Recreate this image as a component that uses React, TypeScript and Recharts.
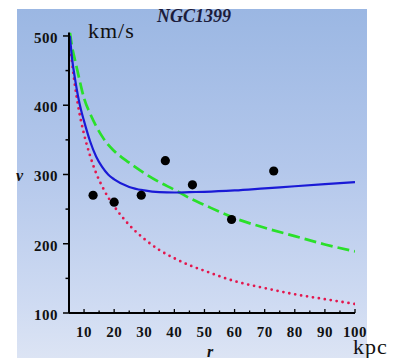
import React from 'react';
import { ComposedChart, Line, Scatter, XAxis, YAxis } from 'recharts';

// radius grid (kpc) shared by the model curves
const radii = [5.3, 6, 7, 8, 9, 10, 12, 14, 16, 18, 20, 25, 30, 35, 40, 45, 50, 60, 70, 80, 90, 100];
// model curves (km/s)
const blueModel = [500, 468, 438, 413, 393, 377, 348, 326, 311, 300, 293, 282, 277, 274.5, 274, 274.5, 275, 277, 280, 283, 286, 289];
const greenModel = [505, 485, 465, 446, 427, 410, 388, 370, 355, 343, 334, 317, 302, 289, 278, 266, 256, 237, 223, 211, 199, 189];
const redModel = [490, 462, 428, 400, 377, 358, 327, 302, 283, 267, 254, 227, 207, 191, 179, 169, 161, 146, 136, 127, 120, 113];

// observed points
const obsR = [13, 20, 29, 37, 46, 59, 73];
const obsV = [270, 260, 270, 320, 285, 235, 305];

// ticks
const xTicks = [10, 15, 20, 25, 30, 35, 40, 45, 50, 55, 60, 65, 70, 75, 80, 85, 90, 95, 100];
const yTicks = [100, 150, 200, 250, 300, 350, 400, 450, 500];

const toSeries = (vals: number[]) => radii.map((r, i) => ({ r, v: vals[i] }));
const blueData = toSeries(blueModel);
const greenData = toSeries(greenModel);
const redData = toSeries(redModel);
const obsData = obsR.map((r, i) => ({ r, v: obsV[i] }));

const SERIF = "'Liberation Serif', 'Times New Roman', Times, serif";
const serifStyle = { fontFamily: SERIF } as React.CSSProperties;

const XTick = (props: any) => {
  const { x, y, payload } = props;
  const major = payload.value % 10 === 0;
  return (
    <g>
      <line x1={x} x2={x} y1={y} y2={y - (major ? 4 : 2.5)} stroke="#000" strokeWidth={1.3} />
      {major && (
        <text x={x} y={y + 24} textAnchor="middle" style={serifStyle} fontWeight="bold" fontSize={15} letterSpacing={0.5} fill="#111">
          {payload.value}
        </text>
      )}
    </g>
  );
};

const YTick = (props: any) => {
  const { x, y, payload } = props;
  const major = payload.value % 100 === 0;
  return (
    <g>
      <line x1={x} x2={x - (major ? 6 : 3.5)} y1={y} y2={y} stroke="#000" strokeWidth={1.5} />
      {major && (
        <text x={x - 11} y={y + 7} textAnchor="end" style={serifStyle} fontWeight="bold" fontSize={15} letterSpacing={0.5} fill="#111">
          {payload.value}
        </text>
      )}
    </g>
  );
};

const Dot = (props: any) => <circle cx={props.cx} cy={props.cy} r={4.6} fill="#000" />;

export default function App() {
  return (
    <div style={{ position: 'absolute', left: 0, top: 0, width: 400, height: 358, overflow: 'hidden', background: '#fff', fontFamily: SERIF }}>
      <div
        style={{
          position: 'absolute',
          left: 17,
          top: 9,
          width: 350,
          height: 349,
          background: 'linear-gradient(to bottom, #9bb7e3 0%, #b3c7eb 45%, #cfdbf2 85%, #dce4f4 100%)',
        }}
      />
      <div style={{ position: 'absolute', left: 0, top: 0 }}>
        <ComposedChart width={400} height={358} margin={{ top: 32.5, right: 45, bottom: 0, left: 0 }}>
          <XAxis
            type="number"
            dataKey="r"
            domain={[5, 100]}
            allowDataOverflow
            ticks={xTicks}
            interval={0}
            height={45}
            tickSize={0}
            tickMargin={0}
            tickLine={false}
            tick={XTick}
            axisLine={{ stroke: '#000', strokeWidth: 1.8 }}
          />
          <YAxis
            type="number"
            dataKey="v"
            domain={[100, 505]}
            allowDataOverflow
            ticks={yTicks}
            interval={0}
            width={69}
            tickSize={0}
            tickMargin={0}
            tickLine={false}
            tick={YTick}
            axisLine={{ stroke: '#000', strokeWidth: 2 }}
          />
          <Line data={redData} dataKey="v" type="monotone" stroke="#e3174d" strokeWidth={2.8} strokeDasharray="0 6" strokeLinecap="round" dot={false} isAnimationActive={false} />
          <Line data={greenData} dataKey="v" type="monotone" stroke="#2ae02a" strokeWidth={2.7} strokeDasharray="12 5" dot={false} isAnimationActive={false} />
          <Line data={blueData} dataKey="v" type="monotone" stroke="#1a1ad6" strokeWidth={2.2} dot={false} isAnimationActive={false} />
          <Scatter data={obsData} dataKey="v" fill="#000" shape={Dot} isAnimationActive={false} />
        </ComposedChart>
      </div>
      <svg width={400} height={358} style={{ position: 'absolute', left: 0, top: 0, pointerEvents: 'none' }}>
        <text x={157} y={22} style={serifStyle} fontWeight="bold" fontStyle="italic" fontSize={18} fill="#1c1c3c">NGC1399</text>
        <text x={88} y={38} style={serifStyle} fontSize={22} letterSpacing={1} fill="#111">km/s</text>
        <text x={16} y={181} style={serifStyle} fontWeight="bold" fontStyle="italic" fontSize={16} fill="#111">v</text>
        <text x={207} y={357} style={serifStyle} fontWeight="bold" fontStyle="italic" fontSize={16} fill="#111">r</text>
        <text x={353} y={354} style={serifStyle} fontSize={22} letterSpacing={1} fill="#111">kpc</text>
      </svg>
    </div>
  );
}
